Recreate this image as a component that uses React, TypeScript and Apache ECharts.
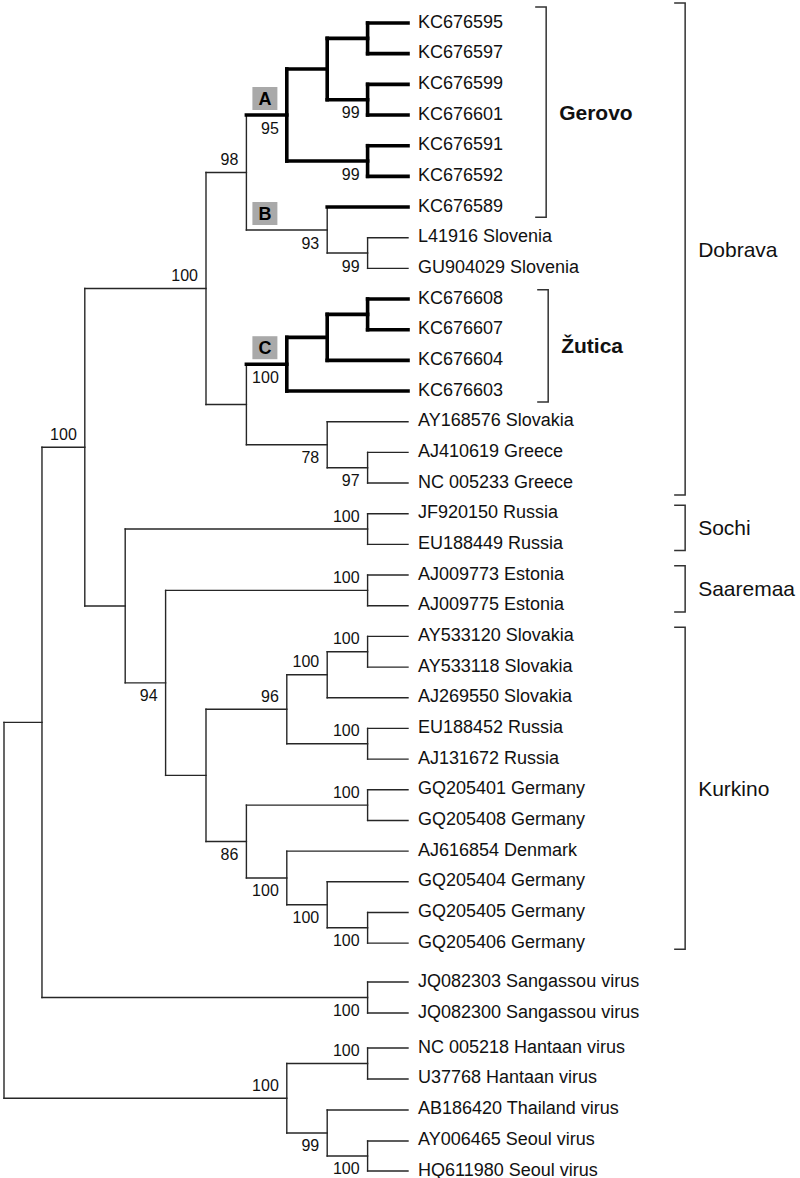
import React, { useEffect, useRef } from "react";
import * as echarts from "echarts";

// ---------- DATA ----------
const leafNames = [
  "KC676595", "KC676597", "KC676599", "KC676601", "KC676591", "KC676592", "KC676589",
  "L41916 Slovenia", "GU904029 Slovenia",
  "KC676608", "KC676607", "KC676604", "KC676603",
  "AY168576 Slovakia", "AJ410619 Greece", "NC 005233 Greece",
  "JF920150 Russia", "EU188449 Russia", "AJ009773 Estonia", "AJ009775 Estonia",
  "AY533120 Slovakia", "AY533118 Slovakia", "AJ269550 Slovakia", "EU188452 Russia", "AJ131672 Russia",
  "GQ205401 Germany", "GQ205408 Germany", "AJ616854 Denmark", "GQ205404 Germany", "GQ205405 Germany", "GQ205406 Germany",
  "JQ082303 Sangassou virus", "JQ082300 Sangassou virus",
  "NC 005218 Hantaan virus", "U37768 Hantaan virus", "AB186420 Thailand virus", "AY006465 Seoul virus", "HQ611980 Seoul virus",
];
// row (vertical slot) of each tip
const leafRows = [
  0, 1, 2, 3, 4, 5, 6, 7, 8, 9, 10, 11, 12, 13, 14, 15, 16, 17, 18, 19, 20,
  21, 22, 23, 24, 25, 26, 27, 28, 29, 30,
  31.27, 32.28, 33.42, 34.43, 35.44, 36.45, 37.43,
];
const leafLevel = 10;
const thickLeaves = [0, 1, 2, 3, 4, 5, 6, 9, 10, 11, 12];

// internal nodes: id, level (depth), children, bootstrap support, label side
const nodeIds = [
  "p1", "p2", "g1", "p3", "A", "slo", "B", "n98",
  "zp", "z1", "C", "gr", "n78", "n6b", "D",
  "sochi", "saa", "sk", "n7", "ru", "n96", "ge1", "ge2", "n10", "n9", "n86", "n5", "n4", "n3", "n2",
  "sang", "n1", "han", "seoul", "n99", "H", "root",
];
const nodeLevels = [
  9, 9, 8, 9, 7, 9, 8, 6,
  9, 8, 7, 9, 8, 6, 5,
  9, 9, 9, 8, 9, 7, 9, 9, 8, 7, 6, 5, 4, 3, 2,
  9, 0.94, 9, 9, 8, 7, 0,
];
const nodeChildren = [
  ["t0", "t1"], ["t2", "t3"], ["p1", "p2"], ["t4", "t5"], ["g1", "p3"], ["t7", "t8"], ["t6", "slo"], ["A", "B"],
  ["t9", "t10"], ["zp", "t11"], ["z1", "t12"], ["t14", "t15"], ["t13", "gr"], ["C", "n78"], ["n98", "n6b"],
  ["t16", "t17"], ["t18", "t19"], ["t20", "t21"], ["sk", "t22"], ["t23", "t24"], ["n7", "ru"],
  ["t25", "t26"], ["t29", "t30"], ["t28", "ge2"], ["t27", "n10"], ["ge1", "n9"], ["n96", "n86"],
  ["saa", "n5"], ["sochi", "n4"], ["D", "n3"],
  ["t31", "t32"], ["n2", "sang"], ["t33", "t34"], ["t36", "t37"], ["t35", "seoul"], ["han", "n99"], ["n1", "H"],
];
const nodeSupport = [
  "", "99", "", "99", "95", "99", "93", "98",
  "", "", "100", "97", "78", "", "100",
  "100", "100", "100", "100", "100", "96", "100", "100", "100", "100", "86", "", "94", "", "100",
  "100", "", "100", "100", "99", "100", "",
];
const nodeSupportSide = [
  "b", "b", "b", "b", "b", "b", "b", "a",
  "b", "b", "b", "b", "b", "b", "a",
  "a", "a", "a", "a", "a", "a", "a", "b", "b", "b", "b", "b", "b", "b", "a",
  "b", "b", "a", "b", "b", "a", "b",
];
const thickNodes = ["p1", "p2", "g1", "p3", "A", "zp", "z1", "C"];

const boxLabels = ["A", "B", "C"];
const boxNodes = ["A", "B", "C"];

const cladeNames = ["Gerovo", "Žutica", "Dobrava", "Sochi", "Saaremaa", "Kurkino"];
const cladeBold = [true, true, false, false, false, false];
const cladeLevel = [13.42, 13.47, 16.86, 16.86, 16.86, 16.86];
const cladeTop = [-0.52, 8.7, -0.65, 15.72, 17.7, 19.7];
const cladeBottom = [6.33, 12.36, 15.39, 17.2, 19.2, 30.2];

// ---------- LAYOUT FROM DATA ----------
type P = { x: number; y: number; thick: boolean };
const pos: Record<string, P> = {};
leafNames.forEach((_, i) => {
  pos["t" + i] = { x: leafLevel, y: leafRows[i], thick: thickLeaves.includes(i) };
});
const idx: Record<string, number> = {};
nodeIds.forEach((id, i) => (idx[id] = i));
function resolve(id: string): P {
  if (pos[id]) return pos[id];
  const i = idx[id];
  const ch = nodeChildren[i].map(resolve);
  const p = { x: nodeLevels[i], y: (ch[0].y + ch[ch.length - 1].y) / 2, thick: thickNodes.includes(id) };
  pos[id] = p;
  return p;
}
nodeIds.forEach(resolve);
const parentOf: Record<string, string> = {};
nodeIds.forEach((id, i) => nodeChildren[i].forEach((c) => (parentOf[c] = id)));

const segments: number[][] = [];
nodeIds.forEach((id, i) => {
  const p = pos[id];
  const ch = nodeChildren[i].map((c) => pos[c]);
  segments.push([p.x, ch[0].y, p.x, ch[ch.length - 1].y, p.thick ? 1 : 0]);
  ch.forEach((c) => segments.push([p.x, c.y, c.x, c.y, c.thick ? 1 : 0]));
});

const FONT = "'Liberation Sans', Arial, Helvetica, sans-serif";

export default function App() {
  const ref = useRef<HTMLDivElement>(null);
  useEffect(() => {
    document.body.style.margin = "0";
    if (!ref.current) return;
    const chart = echarts.init(ref.current, null, { renderer: "svg" });

    const supportItems = nodeIds
      .map((id, i) => ({ id, i }))
      .filter((o) => nodeSupport[o.i] !== "");

    chart.setOption({
      animation: false,
      backgroundColor: "#ffffff",
      grid: { left: 4, top: 23, width: 404, height: 1148 },
      xAxis: { type: "value", min: 0, max: 10, show: false },
      yAxis: { type: "value", min: 0, max: 37.43, inverse: true, show: false },
      series: [
        {
          type: "custom",
          name: "branches",
          silent: true,
          data: segments,
          renderItem: (params: any, api: any) => {
            const a = api.coord([api.value(0), api.value(1)]);
            const b = api.coord([api.value(2), api.value(3)]);
            const thick = api.value(4) === 1;
            return {
              type: "line",
              shape: { x1: a[0], y1: a[1], x2: b[0], y2: b[1] },
              style: {
                stroke: thick ? "#000000" : "#262626",
                lineWidth: thick ? 3.6 : 1.4,
                lineCap: "square",
              },
            };
          },
        },
        {
          type: "custom",
          name: "tips",
          silent: true,
          data: leafNames.map((_, i) => [leafLevel, leafRows[i]]),
          renderItem: (params: any, api: any) => {
            const c = api.coord([api.value(0), api.value(1)]);
            return {
              type: "text",
              x: c[0] + 10,
              y: c[1] - 1.5,
              style: {
                text: leafNames[params.dataIndex],
                font: "18px " + FONT,
                lineHeight: 16,
                fill: "#111111",
                textAlign: "left",
                textVerticalAlign: "middle",
              },
            };
          },
        },
        {
          type: "custom",
          name: "support",
          silent: true,
          data: supportItems.map((o) => [pos[o.id].x, pos[o.id].y]),
          renderItem: (params: any, api: any) => {
            const o = supportItems[params.dataIndex];
            const c = api.coord([api.value(0), api.value(1)]);
            const above = nodeSupportSide[o.i] === "a";
            return {
              type: "text",
              x: c[0] - 8,
              y: c[1] + (above ? -13 : 13),
              style: {
                text: nodeSupport[o.i],
                font: "16px " + FONT,
                fill: "#111111",
                textAlign: "right",
                textVerticalAlign: "middle",
              },
            };
          },
        },
        {
          type: "custom",
          name: "boxes",
          silent: true,
          data: boxNodes.map((n) => [pos[parentOf[n]].x, pos[n].y]),
          renderItem: (params: any, api: any) => {
            const c = api.coord([api.value(0), api.value(1)]);
            const x = c[0] + 6;
            const y = c[1] - 5 - 23;
            return {
              type: "group",
              children: [
                { type: "rect", shape: { x, y, width: 25, height: 23 }, style: { fill: "#a9a9a9" } },
                {
                  type: "text",
                  x: x + 12.5,
                  y: y + 12,
                  style: {
                    text: boxLabels[params.dataIndex],
                    font: "bold 18px " + FONT,
                    fill: "#000000",
                    textAlign: "center",
                    textVerticalAlign: "middle",
                  },
                },
              ],
            };
          },
        },
        {
          type: "custom",
          name: "clades",
          silent: true,
          data: cladeNames.map((_, i) => [cladeLevel[i], cladeTop[i], cladeBottom[i]]),
          renderItem: (params: any, api: any) => {
            const i = params.dataIndex;
            const t = api.coord([api.value(0), api.value(1)]);
            const b = api.coord([api.value(0), api.value(2)]);
            return {
              type: "group",
              children: [
                {
                  type: "polyline",
                  shape: { points: [[t[0] - 11, t[1]], [t[0], t[1]], [b[0], b[1]], [b[0] - 11, b[1]]] },
                  style: { stroke: "#333333", lineWidth: 1.5, fill: null },
                },
                {
                  type: "text",
                  x: t[0] + 13,
                  y: (t[1] + b[1]) / 2,
                  style: {
                    text: cladeNames[i],
                    font: (cladeBold[i] ? "bold 21px " : "21px ") + FONT,
                    fill: "#111111",
                    textAlign: "left",
                    textVerticalAlign: "middle",
                  },
                },
              ],
            };
          },
        },
      ],
    });
    return () => chart.dispose();
  }, []);
  return <div ref={ref} style={{ width: 800, height: 1178 }} />;
}
